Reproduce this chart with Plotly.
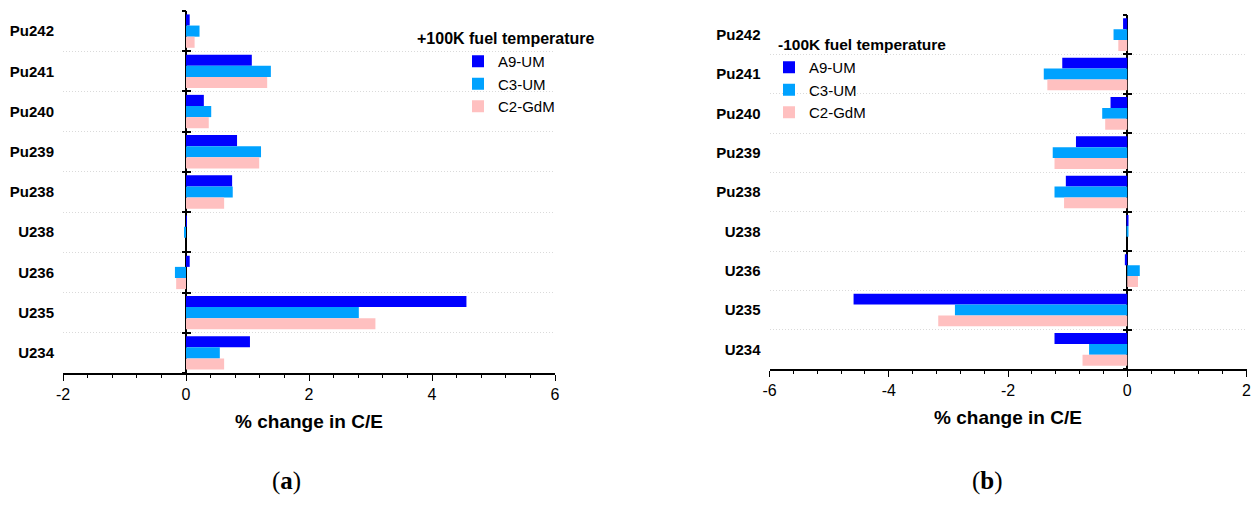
import plotly.graph_objects as go

# ---------------- data ----------------
isotopes = ["Pu242", "Pu241", "Pu240", "Pu239", "Pu238", "U238", "U236", "U235", "U234"]
series_names = ["A9-UM", "C3-UM", "C2-GdM"]
series_colors = ["#0000FF", "#00A2FF", "#FFC0C0"]

# (a) +100K fuel temperature, % change in C/E
plus_A9 = [0.06, 1.07, 0.29, 0.83, 0.75, 0.01, 0.06, 4.56, 1.04]
plus_C3 = [0.22, 1.38, 0.41, 1.22, 0.76, -0.02, -0.18, 2.81, 0.55]
plus_C2 = [0.14, 1.32, 0.37, 1.19, 0.62, 0.00, -0.16, 3.08, 0.62]

# (b) -100K fuel temperature, % change in C/E
minus_A9 = [-0.07, -1.09, -0.28, -0.86, -1.03, 0.01, -0.04, -4.59, -1.22]
minus_C3 = [-0.23, -1.40, -0.42, -1.25, -1.22, 0.02, 0.21, -2.89, -0.64]
minus_C2 = [-0.15, -1.34, -0.37, -1.22, -1.06, 0.00, 0.18, -3.17, -0.75]

x_range_a = [-2, 6]
x_range_b = [-6, 2]
x_ticks_a = [-2, 0, 2, 4, 6]
x_ticks_b = [-6, -4, -2, 0, 2]
x_title = "% change in C/E"
legend_title_a = "+100K fuel temperature"
legend_title_b = "-100K fuel temperature"
captions = ["(<b>a</b>)", "(<b>b</b>)"]

# ---------------- layout geometry ----------------
W, H = 1253, 522
dom_xa = [63 / W, 555 / W]
dom_ya = [1 - 373 / H, 1 - 11 / H]
dom_xb = [769.5 / W, 1246.5 / W]
dom_yb = [1 - 369 / H, 1 - 15 / H]

FONT = "Liberation Sans, Arial, sans-serif"

fig = go.Figure()

panel_a = [plus_A9, plus_C3, plus_C2]
panel_b = [minus_A9, minus_C3, minus_C2]

for name, color, vals in zip(series_names, series_colors, panel_a):
    fig.add_trace(go.Bar(y=isotopes, x=vals, orientation="h", name=name,
                         marker=dict(color=color, line=dict(width=0)),
                         xaxis="x", yaxis="y", legend="legend"))
for name, color, vals in zip(series_names, series_colors, panel_b):
    fig.add_trace(go.Bar(y=isotopes, x=vals, orientation="h", name=name,
                         marker=dict(color=color, line=dict(width=0)),
                         xaxis="x2", yaxis="y2", legend="legend2"))

# empty traces so the overlay tick axes (cross ticks on zero line) are drawn
for xa, ya in [("x", "y3"), ("x", "y4"), ("x2", "y5"), ("x2", "y6")]:
    fig.add_trace(go.Scatter(x=[None], y=[None], xaxis=xa, yaxis=ya,
                             showlegend=False, hoverinfo="skip"))

n = len(isotopes)
cat_range = [n - 0.5, -0.5]
boundaries = [i - 0.5 for i in range(n + 1)]


def zero_pos(dom, rng):
    return dom[0] + (0 - rng[0]) / (rng[1] - rng[0]) * (dom[1] - dom[0])


def xaxis_common(ticks):
    return dict(
        showline=True, linecolor="black", linewidth=1.5, mirror=False,
        ticks="outside", ticklen=6, tickwidth=1.2, tickcolor="black",
        tickmode="array", tickvals=ticks, ticktext=[str(v) for v in ticks],
        showgrid=False, ticklabeloverflow="allow",
        zeroline=True, zerolinecolor="black", zerolinewidth=1.5,
        minor=dict(dtick=0.4, ticks="outside", ticklen=3.5, tickwidth=1, tickcolor="black", showgrid=False),
        tickfont=dict(family=FONT, size=16, color="black"),
        title=dict(text="<b>" + x_title + "</b>", font=dict(family=FONT, size=19, color="black"), standoff=13),
        automargin=False,
    )


yaxis_common = dict(
    type="category", categoryorder="array", categoryarray=isotopes,
    range=cat_range, tickson="boundaries", ticks="", showline=False,
    showgrid=True, gridcolor="#dadada", griddash="1px,2px", gridwidth=1,
    zeroline=False, ticklabelstandoff=8,
    tickfont=dict(family=FONT, size=15, color="black"),
    automargin=False,
)

tick_axis = dict(
    range=cat_range, tickvals=boundaries, showticklabels=False,
    showgrid=False, zeroline=False, showline=False,
    ticklen=4, tickwidth=1.5, tickcolor="black", anchor="free",
)

fig.update_layout(
    width=W, height=H,
    margin=dict(l=0, r=0, t=0, b=0),
    paper_bgcolor="white", plot_bgcolor="white",
    barmode="group", bargap=0.17, bargroupgap=0,
    showlegend=True,
    xaxis=dict(domain=dom_xa, range=x_range_a, anchor="y", **xaxis_common(x_ticks_a)),
    yaxis=dict(domain=dom_ya, anchor="x", tickmode="array", tickvals=isotopes,
               ticktext=["<b>" + s + "</b>" for s in isotopes], **yaxis_common),
    xaxis2=dict(domain=dom_xb, range=x_range_b, anchor="y2", **xaxis_common(x_ticks_b)),
    yaxis2=dict(domain=dom_yb, anchor="x2", tickmode="array", tickvals=isotopes,
                ticktext=["<b>" + s + "</b>" for s in isotopes], **yaxis_common),
    yaxis3=dict(overlaying="y", position=zero_pos(dom_xa, x_range_a), ticks="outside", **tick_axis),
    yaxis4=dict(overlaying="y", position=zero_pos(dom_xa, x_range_a), ticks="inside", **tick_axis),
    yaxis5=dict(overlaying="y2", position=zero_pos(dom_xb, x_range_b), ticks="outside", **tick_axis),
    yaxis6=dict(overlaying="y2", position=zero_pos(dom_xb, x_range_b), ticks="inside", **tick_axis),
    legend=dict(x=458 / W, y=1 - 45 / H, xanchor="left", yanchor="top",
                font=dict(family=FONT, size=15, color="black"),
                bgcolor="rgba(0,0,0,0)", itemwidth=30, tracegroupgap=0),
    legend2=dict(x=769 / W, y=1 - 51 / H, xanchor="left", yanchor="top",
                 font=dict(family=FONT, size=15, color="black"),
                 bgcolor="rgba(0,0,0,0)", itemwidth=30, tracegroupgap=0),
    annotations=[
        dict(text="<b>" + legend_title_a + "</b>", x=506 / W, y=1 - 39 / H, xref="paper", yref="paper",
             showarrow=False, font=dict(family=FONT, size=16, color="black"), xanchor="center", yanchor="middle"),
        dict(text="<b>" + legend_title_b + "</b>", x=862 / W, y=1 - 44 / H, xref="paper", yref="paper",
             showarrow=False, font=dict(family=FONT, size=15.5, color="black"), xanchor="center", yanchor="middle"),
        dict(text=captions[0], x=286 / W, y=1 - 481 / H, xref="paper", yref="paper",
             showarrow=False, font=dict(family="Liberation Serif, serif", size=25, color="black"),
             xanchor="center", yanchor="middle"),
        dict(text=captions[1], x=987 / W, y=1 - 481 / H, xref="paper", yref="paper",
             showarrow=False, font=dict(family="Liberation Serif, serif", size=25, color="black"),
             xanchor="center", yanchor="middle"),
    ],
)

fig.write_html("out.html")
